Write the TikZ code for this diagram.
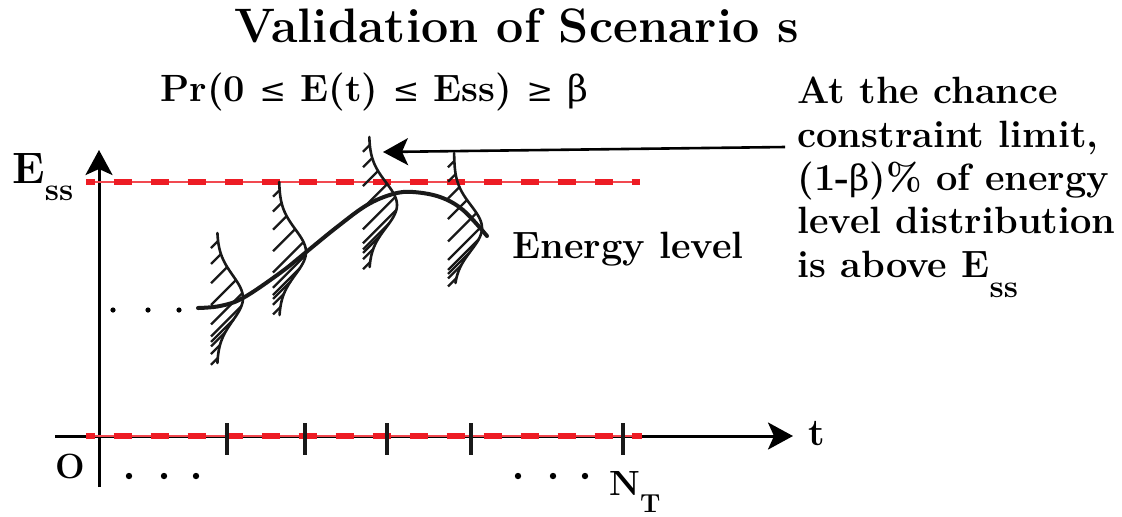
\documentclass[tikz,border=0pt]{standalone}
\usepackage{fontspec}
\newfontfamily\symf{DejaVu Serif}
\usetikzlibrary{arrows.meta}
\definecolor{dred}{RGB}{237,28,36}
\begin{document}
\begin{tikzpicture}[x=0.5pt,y=-0.5pt,
  txt/.style={inner sep=0pt, font=\bfseries\fontsize{19}{22}\selectfont},
  axisline/.style={line width=1.5pt},
  bigtip/.style={-{Stealth[length=12.5pt,width=13.5pt,inset=3pt]}},
  tick/.style={line width=1.6pt, black!90},
  redthin/.style={line width=0.8pt, dred!80},
  reddash/.style={line width=2.6pt, dred, dash pattern=on 9.25pt off 9.25pt, dash phase=4.75pt},
  distline/.style={line width=1.3pt, black!90, line cap=round},
  hatch/.style={line width=1.15pt, black!90},
  energy/.style={line width=2pt, black!90, line cap=round},
  dot/.style={circle, fill=black, inner sep=0pt, minimum size=3pt}
]
\useasboundingbox (0,0) rectangle (1122,516);

% titles
\node[anchor=base, inner sep=0pt, font=\bfseries\fontsize{24.2}{28}\selectfont] (title) at (517,42) {Validation of Scenario s};
\node[anchor=base west, inner sep=0pt, font=\bfseries\fontsize{19}{22}\selectfont] (cc) at (160,101)
  {Pr(0 {\symf\mdseries\fontsize{16}{16}\selectfont ≤} E(t) {\symf\mdseries\fontsize{16}{16}\selectfont ≤} Ess) {\symf\mdseries\fontsize{16}{16}\selectfont ≥} {\symf\mdseries\fontsize{18}{18}\selectfont β}};

% right annotation text
\node[txt, anchor=base west] (r1) at (797,103) {At the chance};
\node[txt, anchor=base west] (r2) at (797,147) {constraint limit,};
\node[txt, anchor=base west] (r3) at (797,190) {(1-{\symf\mdseries\fontsize{17.5}{17.5}\selectfont β})\% of energy};
\node[txt, anchor=base west] (r4) at (797,233) {level distribution};
\node[txt, anchor=base west] (r5) at (797,277) {is above E\raisebox{-10pt}{\fontsize{16}{16}\selectfont ss}};

% axes
\coordinate (vb) at (99,487);
\coordinate (vt) at (99,150);
\coordinate (hl) at (55,436);
\coordinate (hr) at (793,436);
\draw[axisline, bigtip] (vb) -- (vt);
\draw[axisline, bigtip] (hl) -- (hr);

% red lines
\coordinate (ra) at (86,182);
\coordinate (rb) at (640,182);
\coordinate (rc) at (86,436);
\coordinate (rd) at (642,436);
\draw[redthin] (ra) -- (rb);
\draw[reddash] (ra) -- (rb);
\draw[redthin] (rc) -- (rd);
\draw[reddash] (rc) -- (rd);

% ticks
\foreach \tx in {227,305,387,471,623} \draw[tick] (\tx,423) -- (\tx,455);

% axis labels
\node[inner sep=0pt, anchor=base west] (ess) at (12,183)
  {\bfseries\fontsize{22}{22}\selectfont E\raisebox{-8.5pt}{\fontsize{16}{16}\selectfont ss}};
\node[txt, anchor=base west] (tl) at (808,445) {t};
\node[inner sep=0pt, anchor=base west, font=\bfseries\fontsize{17.5}{17.5}\selectfont] (zero) at (55,478) {O};
\node[inner sep=0pt, anchor=base west] (nt) at (609,495)
  {\bfseries\fontsize{17.5}{17.5}\selectfont N\raisebox{-8.5pt}{\fontsize{13}{13}\selectfont T}};
\node[txt, anchor=base west] (el) at (512,258) {Energy level};

% dots
\foreach \dx in {129,164,196} \node[dot, minimum size=3.2pt] at (\dx,476) {};
\foreach \dx in {518,553,585} \node[dot, minimum size=3.2pt] at (\dx,476) {};
\foreach \dx in {113,148,179} \node[dot, minimum size=2.6pt] at (\dx,310) {};

% distributions
\foreach \xo/\yc/\A/\s/\yt/\yb in {217/298/26/32/233/363, 279/252/27/32/182/315, 369/205/28/32/137/267, 454/228/28/32/153/283} {
  \draw[distline] plot[domain=\yt:\yb, samples=60, smooth] ({\xo+\A*exp(-(\x-\yc)*(\x-\yc)/(\s*\s))}, \x);
  \pgfmathtruncatemacro\nh{(\yb-\yt-10)/13}
  \foreach \i in {0,...,\nh} {
    \pgfmathsetmacro\yy{\yt+8+13*\i}
    \pgfmathsetmacro\xc{\xo+\A*exp(-(\yy-\yc)*(\yy-\yc)/(\s*\s))}
    \pgfmathsetmacro\dd{\xc-\xo+6}
    \draw[hatch] (\xc,\yy) -- ++(-\dd,\dd);
  }
}

% energy level curve
\draw[energy] plot[smooth, tension=0.6] coordinates {(198,308) (220,306) (243,298) (280,273) (305,253) (337,227) (367,205) (393,194) (413,192) (440,197) (463,210) (487,236)};

% annotation arrow
\coordinate (astart) at (785,147);
\coordinate (atip) at (383,152);
\draw[line width=1.3pt, bigtip] (astart) -- (atip);
\end{tikzpicture}
\end{document}
